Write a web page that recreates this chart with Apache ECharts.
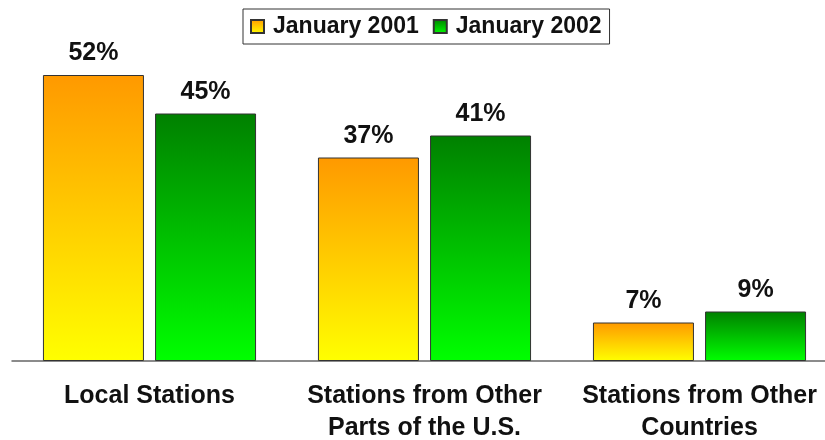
<!DOCTYPE html>
<html>
<head>
<meta charset="utf-8">
<script src="https://cdn.jsdelivr.net/npm/echarts@6/dist/echarts.min.js"></script>
<style>
  html, body { margin: 0; padding: 0; background: #fff; }
  #main { width: 825px; height: 440px; }
</style>
</head>
<body>
<div id="main"></div>
<script>
// categories and values
var categories = ['Local Stations', 'Stations from Other\nParts of the U.S.', 'Stations from Other\nCountries'];
var jan2001 = [52, 37, 7];
var jan2002 = [45, 41, 9];
var seriesNames = ['January 2001', 'January 2002'];

function grad(top, bottom) {
    return new echarts.graphic.LinearGradient(0, 0, 0, 1, [
        {offset: 0, color: top},
        {offset: 1, color: bottom}
    ]);
}

var labelStyle = {
    show: true,
    position: 'top',
    distance: 9,
    formatter: '{c}%',
    fontFamily: 'Liberation Sans, Arial, sans-serif',
    fontWeight: 'bold',
    fontSize: 25,
    color: '#111'
};

var myChart = echarts.init(document.getElementById('main'));
myChart.setOption({
    animation: false,
    legend: {
        top: 9,
        left: 243,
        icon: 'rect',
        itemWidth: 13,
        itemHeight: 13,
        itemGap: 14,
        padding: [6, 8, 6, 7],
        borderColor: '#333',
        borderWidth: 1,
        textStyle: {
            fontFamily: 'Liberation Sans, Arial, sans-serif',
            fontWeight: 'bold',
            fontSize: 23,
            color: '#111',
            padding: [0, 0, 0, 4]
        },
        data: seriesNames
    },
    grid: {
        left: 12,
        top: 31,
        width: 825,
        height: 330,
        outerBoundsMode: 'none',
        containLabel: false
    },
    xAxis: {
        type: 'category',
        data: categories,
        axisTick: {show: false},
        axisLine: {lineStyle: {color: '#666', width: 1.5}},
        axisLabel: {
            margin: 19,
            interval: 0,
            fontFamily: 'Liberation Sans, Arial, sans-serif',
            fontWeight: 'bold',
            fontSize: 25,
            lineHeight: 32,
            color: '#111'
        }
    },
    yAxis: {
        type: 'value',
        min: 0,
        max: 60,
        show: false
    },
    series: [{
        name: seriesNames[0],
        type: 'bar',
        data: jan2001,
        barWidth: 101,
        barGap: '11%',
        itemStyle: {
            color: grad('#FF9900', '#FFFF00'),
            borderColor: '#333',
            borderWidth: 1
        },
        label: labelStyle
    }, {
        name: seriesNames[1],
        type: 'bar',
        data: jan2002,
        barWidth: 101,
        itemStyle: {
            color: grad('#008000', '#00FF00'),
            borderColor: '#333',
            borderWidth: 1
        },
        label: labelStyle
    }]
});
</script>
</body>
</html>
